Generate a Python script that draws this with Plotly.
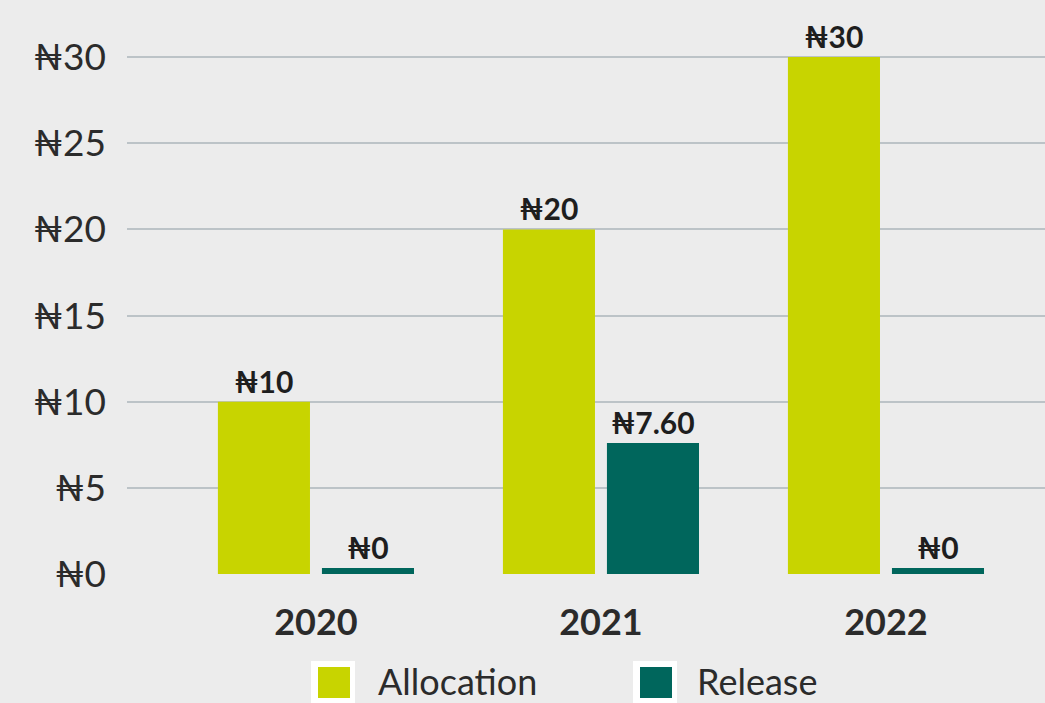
import plotly.graph_objects as go

years = ["2020", "2021", "2022"]
allocation = [10, 20, 30]
release = [0, 7.6, 0]
y_ticks = [0, 5, 10, 15, 20, 25, 30]
y_tick_labels = ["₦0", "₦5", "₦10", "₦15", "₦20", "₦25", "₦30"]

ALLOC_COLOR = "#c8d400"
REL_COLOR = "#00665c"
BG = "#ececec"
MIN_VISIBLE = 0.35  # zero-value bars drawn as a thin sliver


def fmt(v):
    return "₦%d" % v if float(v).is_integer() else "₦%.2f" % v


def shown(vals):
    return [v if v > 0 else MIN_VISIBLE for v in vals]


label_font = dict(family="Lato", size=30, color="#1e1e1e", weight="bold")

fig = go.Figure()
fig.add_trace(go.Bar(
    x=years, y=shown(allocation), name="Allocation",
    marker=dict(color=ALLOC_COLOR, line=dict(width=0)),
    text=[fmt(v) for v in allocation], textposition="outside",
    textfont=label_font, cliponaxis=False, hoverinfo="skip",
))
fig.add_trace(go.Bar(
    x=years, y=shown(release), name="Release",
    marker=dict(color=REL_COLOR, line=dict(width=0)),
    text=[fmt(v) for v in release], textposition="outside",
    textfont=label_font, cliponaxis=False, hoverinfo="skip",
))

L, R, T, B = 127, 0, 30, 129
W, H = 1045, 703
pw = W - L - R
ph = H - T - B


def px(xp):
    return (xp - L) / pw


def py(yp):
    return (H - B - yp) / ph


fig.update_layout(
    width=W, height=H,
    margin=dict(l=L, r=R, t=T, b=B, pad=0),
    paper_bgcolor=BG, plot_bgcolor=BG,
    barmode="group", bargap=0.27, bargroupgap=0.115,
    showlegend=False,
    font=dict(family="Lato, Noto Sans, DejaVu Sans", color="#2b2b2b"),
)
fig.update_xaxes(
    type="category", range=[-0.663, 2.558],
    showgrid=False, zeroline=False, showline=False,
    ticks="", ticklabelstandoff=24,
    tickfont=dict(family="Lato", size=36, color="#2b2b2b", weight="bold"),
)
fig.update_yaxes(
    range=[0, ph / 17.23],
    tickvals=y_ticks, ticktext=y_tick_labels,
    showgrid=True, gridcolor="#bcc3c7", gridwidth=2,
    zeroline=False, showline=False, ticks="",
    ticklabelstandoff=20,
    tickfont=dict(family="Lato, Noto Sans, DejaVu Sans", size=37, color="#2b2b2b"),
)

# manual legend with large squares
legend_items = [("Allocation", ALLOC_COLOR, 311, 376), ("Release", REL_COLOR, 633, 695)]
for name, col, bx, tx in legend_items:
    fig.add_shape(type="rect", xref="paper", yref="paper",
                  x0=px(bx), x1=px(bx + 44), y0=py(661), y1=py(712),
                  fillcolor="white", line=dict(width=0), layer="above")
    fig.add_shape(type="rect", xref="paper", yref="paper",
                  x0=px(bx + 7), x1=px(bx + 39), y0=py(667), y1=py(698),
                  fillcolor=col, line=dict(width=0), layer="above")
    fig.add_annotation(text=name, xref="paper", yref="paper",
                       x=px(tx), y=py(681), xanchor="left", yanchor="middle",
                       showarrow=False,
                       font=dict(family="Lato", size=36, color="#2b2b2b"))

fig.write_html("out.html", config={"displayModeBar": False},
               post_script="document.body.style.margin='0';")
